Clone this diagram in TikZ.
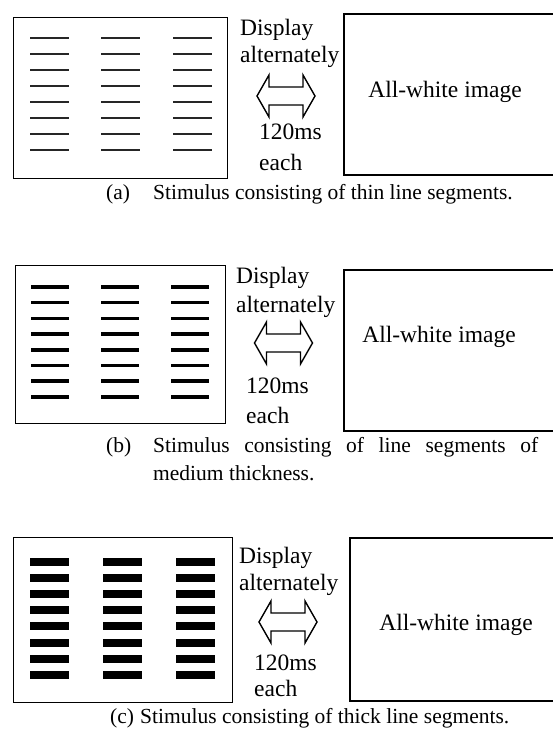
\documentclass[tikz,border=0pt]{standalone}
\usepackage{fontspec}
\setmainfont{Liberation Serif}

\begin{document}
\begin{tikzpicture}[x=1pt,y=-1pt,
  lbl/.style={inner sep=0pt, anchor=west, font=\fontsize{23.5}{26}\selectfont},
  captext/.style={inner sep=0pt, anchor=west, font=\fontsize{21.5}{24}\selectfont},
  stimbox/.style={draw, line width=1.3pt, inner sep=0pt, anchor=north west},
  whitebox/.style={draw, line width=2.4pt, inner sep=0pt, anchor=north west},
  altarrow/.style={draw, line width=1.4pt, line join=miter},
  thinbar/.style={black!85, line width=2pt},
  midbar/.style={black, line width=3.5pt},
  thickbar/.style={black, line width=8pt}]
\useasboundingbox (0,0) rectangle (552,734);

\node[stimbox, minimum width=214pt, minimum height=161pt] (stimA) at (13,17) {};
\node[whitebox, minimum width=230pt, minimum height=161pt] (whiteA) at (343,13) {};
\foreach \c in {30,101,173} \foreach \r in {0,...,7} \draw[thinbar] (\c,{38+16*\r}) -- ++(39,0);
\coordinate (swA) at (286,96);
\draw[altarrow] (swA) ++(-29,0) -- ++(12,21) -- ++(0,-12) -- ++(34,0) -- ++(0,12) -- ++(12,-21) -- ++(-12,-21) -- ++(0,12) -- ++(-34,0) -- ++(0,-12) -- cycle;
\node[lbl] (dispA) at (240,30) {Display};
\node[lbl] (altA) at (240,57) {alternately};
\node[lbl] (msA) at (259,132) {120ms};
\node[lbl] (eachA) at (259,162) {each};
\node[lbl, anchor=center] (allA) at (445,92) {All-white image};
\node[captext] (capA) at (106,194) {(a)};
\node[captext] (capAt) at (153,194) {Stimulus consisting of thin line segments.};

\node[stimbox, minimum width=210pt, minimum height=158pt] (stimB) at (15,265) {};
\node[whitebox, minimum width=230pt, minimum height=161pt] (whiteB) at (343,269) {};
\foreach \c in {31,101,171} \foreach \r in {0,...,7} \draw[midbar] (\c,{287+15.7*\r}) -- ++(38,0);
\coordinate (swB) at (283.5,343);
\draw[altarrow] (swB) ++(-29,0) -- ++(12,21) -- ++(0,-12) -- ++(34,0) -- ++(0,12) -- ++(12,-21) -- ++(-12,-21) -- ++(0,12) -- ++(-34,0) -- ++(0,-12) -- cycle;
\node[lbl] (dispB) at (236,278) {Display};
\node[lbl] (altB) at (236,307) {alternately};
\node[lbl] (msB) at (246,386) {120ms};
\node[lbl] (eachB) at (246,415) {each};
\node[lbl, anchor=center] (allB) at (439,337) {All-white image};
\node[captext] (capB) at (106,447) {(b)};
\node[captext] (capBt) at (153,447) {\hbox to 385pt{Stimulus\hfill consisting\hfill of\hfill line\hfill segments\hfill of}};
\node[captext] (capBu) at (153,473) {medium thickness.};

\node[stimbox, minimum width=219pt, minimum height=165pt] (stimC) at (13,537) {};
\node[whitebox, minimum width=224pt, minimum height=163pt] (whiteC) at (349,537) {};
\foreach \c in {30,103,176} \foreach \r in {0,...,7} \draw[thickbar] (\c,{562+16.1*\r}) -- ++(39,0);
\coordinate (swC) at (288,622);
\draw[altarrow] (swC) ++(-29,0) -- ++(12,21) -- ++(0,-12) -- ++(34,0) -- ++(0,12) -- ++(12,-21) -- ++(-12,-21) -- ++(0,12) -- ++(-34,0) -- ++(0,-12) -- cycle;
\node[lbl] (dispC) at (239,558) {Display};
\node[lbl] (altC) at (239,585) {alternately};
\node[lbl] (msC) at (254,663) {120ms};
\node[lbl] (eachC) at (254,688) {each};
\node[lbl, anchor=center] (allC) at (456,625) {All-white image};
\node[captext] (capC) at (110,718) {(c)};
\node[captext] (capCt) at (140,718) {Stimulus consisting of thick line segments.};
\end{tikzpicture}
\end{document}
